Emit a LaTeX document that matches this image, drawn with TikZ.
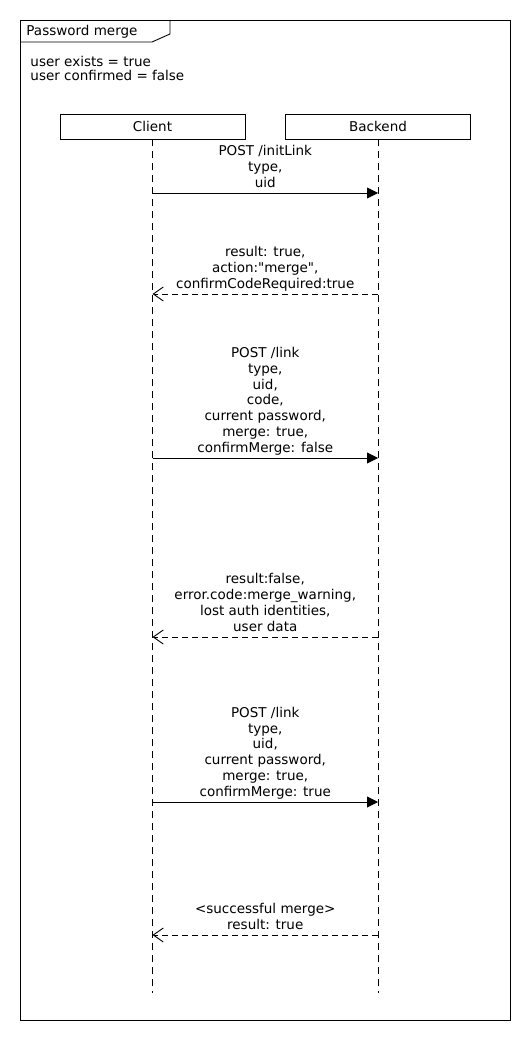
\documentclass[tikz,border=0pt]{standalone}
\usepackage{fontspec}
\setmainfont{DejaVu Sans}
\usetikzlibrary{arrows.meta}
\begin{document}
\begin{tikzpicture}[x=1pt,y=-1pt,line width=0.9pt,
  txt/.style={font=\fontsize{13.5}{15.8}\selectfont},
  lbl/.style={txt,align=center,inner sep=0pt,anchor=south,execute at end node=\strut},
  actor/.style={txt,draw,minimum width=185pt,minimum height=25pt,inner sep=0pt},
  life/.style={dash pattern=on 7pt off 5pt},
  call/.style={-{Triangle[length=11pt,width=11pt]}},
  reply/.style={dash pattern=on 6pt off 4pt,-{Straight Barb[length=10pt,width=14pt]}}]
\useasboundingbox (0,0) rectangle (530,1040);
% frame
\draw (20,20) rectangle (510,1020);
\draw (20,42) -- (152,42) -- (170,34) -- (170,20);
\node[txt,anchor=west,inner sep=0pt] (title) at (26,32) {Password merge};
\node[font=\fontsize{13.5}{14}\selectfont,align=left,anchor=north west,inner sep=0pt] (cond) at (30,55.5)
  {user exists = true\\user confirmed = false};
% actors
\node[actor] (client) at (152.5,126.5) {Client};
\node[actor] (backend) at (378,126.5) {Backend};
\coordinate (cend) at (152.5,993);
\coordinate (bend) at (378,993);
\draw[life] (client.south) -- (cend);
\draw[life] (backend.south) -- (bend);
% message points
\foreach \i/\y in {1/193,2/294,3/458,4/637,5/802,6/935}{
  \coordinate (c\i) at (152.5,\y);
  \coordinate (b\i) at (378,\y);
  \coordinate (m\i) at (265.25,\y-0.5);
}
\draw[call] (c1) -- (b1);
\node[lbl] (l1) at (m1) {POST /initLink\\type,\\uid};
\draw[reply] (b2) -- (c2);
\node[lbl] (l2) at (m2) {result: true,\\action:\textquotedbl merge\textquotedbl,\\confirmCodeRequired:true};
\draw[call] (c3) -- (b3);
\node[lbl] (l3) at (m3) {POST /link\\type,\\uid,\\code,\\current password,\\merge: true,\\confirmMerge: false};
\draw[reply] (b4) -- (c4);
\node[lbl] (l4) at (m4) {result:false,\\error.code:merge\_warning,\\lost auth identities,\\user data};
\draw[call] (c5) -- (b5);
\node[lbl] (l5) at (m5) {POST /link\\type,\\uid,\\current password,\\merge: true,\\confirmMerge: true};
\draw[reply] (b6) -- (c6);
\node[lbl] (l6) at (m6) {<successful merge>\\result: true};
\end{tikzpicture}
\end{document}
